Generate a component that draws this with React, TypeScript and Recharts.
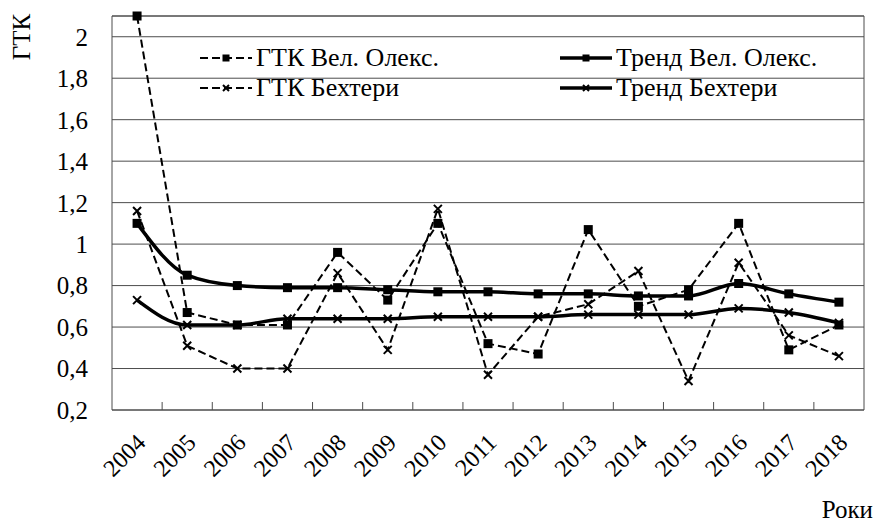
import { CartesianGrid, Legend, Line, LineChart, ReferenceLine, XAxis, YAxis } from 'recharts'

const years = ['2004', '2005', '2006', '2007', '2008', '2009', '2010', '2011', '2012', '2013', '2014', '2015', '2016', '2017', '2018']
const gtkVel = [2.1, 0.67, 0.61, 0.61, 0.96, 0.73, 1.1, 0.52, 0.47, 1.07, 0.7, 0.78, 1.1, 0.49, 0.61]
const trendVel = [1.1, 0.85, 0.8, 0.79, 0.79, 0.78, 0.77, 0.77, 0.76, 0.76, 0.75, 0.75, 0.81, 0.76, 0.72]
const gtkBekh = [1.16, 0.51, 0.4, 0.4, 0.86, 0.49, 1.17, 0.37, 0.65, 0.71, 0.87, 0.34, 0.91, 0.56, 0.46]
const trendBekh = [0.73, 0.61, 0.61, 0.64, 0.64, 0.64, 0.65, 0.65, 0.65, 0.66, 0.66, 0.66, 0.69, 0.67, 0.62]
const yTicks = [0.2, 0.4, 0.6, 0.8, 1, 1.2, 1.4, 1.6, 1.8, 2]

const data = years.map((year, i) => ({
  year,
  gtkVel: gtkVel[i],
  trendVel: trendVel[i],
  gtkBekh: gtkBekh[i],
  trendBekh: trendBekh[i],
}))

const series = [
  { key: 'gtkVel', name: 'ГТК Вел. Олекс.', dash: '8 4', width: 2, marker: 'square' },
  { key: 'trendVel', name: 'Тренд Вел. Олекс.', dash: undefined, width: 3.5, marker: 'square' },
  { key: 'gtkBekh', name: 'ГТК Бехтери', dash: '8 4', width: 2, marker: 'cross' },
  { key: 'trendBekh', name: 'Тренд Бехтери', dash: undefined, width: 3.5, marker: 'cross' },
]

const font = 'Liberation Serif'
const gridColor = '#4d4d4d'

function Marker({ cx, cy, type, size = 9 }: { cx: number; cy: number; type: string; size?: number }) {
  if (cx == null || cy == null) return null
  const h = size / 2
  if (type === 'square') {
    return <rect x={cx - h} y={cy - h} width={size} height={size} fill='#000' />
  }
  const c = h - 0.5
  return (
    <path
      d={`M${cx - c},${cy - c}L${cx + c},${cy + c}M${cx - c},${cy + c}L${cx + c},${cy - c}`}
      stroke='#000'
      strokeWidth={2}
      fill='none'
    />
  )
}

function makeDot(type: string) {
  return (props: any) => (
    <g key={`${type}-${props.index}`}>
      <Marker cx={props.cx} cy={props.cy} type={type} />
    </g>
  )
}

function LegendGrid({ payload }: any) {
  return (
    <div style={{ display: 'grid', gridTemplateColumns: '360px 300px', fontFamily: font }}>
      {series.map((s) => {
        const entry = (payload || []).find((p: any) => p.dataKey === s.key)
        return (
          <div key={s.key} style={{ display: 'flex', alignItems: 'center', height: 30 }}>
            <svg width={56} height={20} style={{ display: 'block' }}>
              <line x1={0} y1={10} x2={52} y2={10} stroke='#000' strokeWidth={s.width} strokeDasharray={s.dash} />
              <Marker cx={26} cy={10} type={s.marker} size={7} />
            </svg>
            <span style={{ fontSize: 26, color: '#000', lineHeight: '26px', fontFamily: font }}>
              {entry ? entry.value : s.name}
            </span>
          </div>
        )
      })}
    </div>
  )
}

// year label plus the small tick mark on the left edge of its band
function YearTick({ x, y, payload, index }: any) {
  const px = x + 10
  const py = y + 34
  const half = payload && typeof payload.offset === 'number' && payload.offset > 0 ? payload.offset : 25
  return (
    <g>
      {index > 0 && <line x1={x - half} y1={y} x2={x - half} y2={y - 8} stroke={gridColor} />}
      <text
        x={px}
        y={py}
        transform={`rotate(-45, ${px}, ${py})`}
        textAnchor='end'
        fontSize={24}
        fontFamily={font}
        fill='#000'
      >
        {payload.value}
      </text>
    </g>
  )
}

export default function App() {
  return (
    <div style={{ position: 'absolute', left: 0, top: 0, width: 875, height: 522, fontFamily: font, background: '#fff' }}>
      <LineChart
        width={875}
        height={522}
        data={data}
        margin={{ top: 16, right: 11, bottom: 0, left: 0 }}
        style={{ fontFamily: font }}
      >
        <CartesianGrid
          stroke={gridColor}
          verticalCoordinatesGenerator={({ offset }: any) => [offset.left + offset.width]}
        />
        <ReferenceLine y={2.1} stroke={gridColor} />
        <XAxis
          dataKey='year'
          scale='band'
          interval={0}
          height={112}
          tickSize={0}
          tickMargin={0}
          tickLine={false}
          axisLine={{ stroke: gridColor }}
          tick={<YearTick />}
          label={{
            content: ({ viewBox }: any) => (
              <text
                x={viewBox.x + viewBox.width + 9}
                y={viewBox.y + viewBox.height - 4}
                textAnchor='end'
                fontSize={25}
                fontFamily={font}
                fill='#000'
              >
                Роки
              </text>
            ),
          }}
        />
        <YAxis
          width={112}
          domain={[0.2, 2.1]}
          ticks={yTicks}
          interval={0}
          tickSize={0}
          tickMargin={24}
          axisLine={{ stroke: gridColor }}
          tickLine={false}
          tick={{ fontSize: 25, fill: '#000', fontFamily: font }}
          tickFormatter={(v: number) => String(v).replace('.', ',')}
          label={{
            content: ({ viewBox }: any) => (
              <text
                x={viewBox.x + 21}
                y={viewBox.y + 21}
                transform={`rotate(-90, ${viewBox.x + 21}, ${viewBox.y + 21})`}
                textAnchor='middle'
                dominantBaseline='central'
                fontSize={25}
                fontFamily={font}
                fill='#000'
              >
                ГТК
              </text>
            ),
          }}
        />
        <Legend
          layout='horizontal'
          verticalAlign='middle'
          align='center'
          wrapperStyle={{ top: 43, left: 200, width: 660 }}
          content={<LegendGrid />}
        />
        {series.map((s) => (
          <Line
            key={s.key}
            dataKey={s.key}
            name={s.name}
            type={s.dash ? 'linear' : 'monotone'}
            stroke='#000'
            strokeWidth={s.width}
            strokeDasharray={s.dash}
            dot={makeDot(s.marker)}
            activeDot={false}
            isAnimationActive={false}
          />
        ))}
      </LineChart>
    </div>
  )
}
